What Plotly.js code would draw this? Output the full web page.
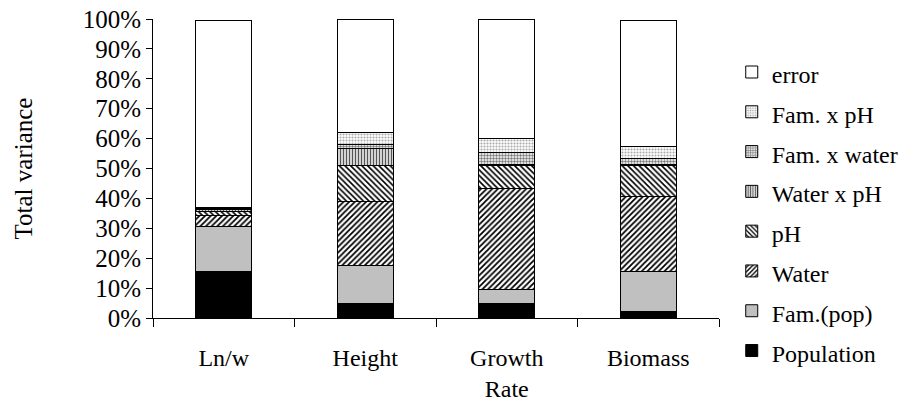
<!DOCTYPE html>
<html>
<head>
<meta charset="utf-8">
<script src="https://cdn.plot.ly/plotly-3.0.1.min.js"></script>
<style>
html,body{margin:0;padding:0;background:#fff;}
#chart{width:909px;height:409px;}
</style>
</head>
<body>
<div id="chart"></div>
<script>
var categories = ["Ln/w", "Height", "Growth<br>Rate", "Biomass"];
var population = [15.7, 4.9, 4.7, 2.3];
var famPop     = [14.8, 12.6, 4.9, 13.2];
var water      = [3.8, 21.6, 33.8, 25.2];
var pH         = [1.3, 12.0, 7.7, 10.2];
var waterXpH   = [0.6, 5.6, 0.2, 0.3];
var famXwater  = [0.4, 1.3, 3.9, 2.2];
var famXpH     = [0.5, 4.0, 4.8, 4.1];
var errorVar   = [62.3, 38.0, 40.0, 41.9];

var line = {color: "#000", width: 1};
function tr(name, y, color, pattern) {
  var m = {color: color, line: line};
  if (pattern) m.pattern = pattern;
  return {type: "bar", name: '<span style="font-size:24px">' + name + '</span>', x: categories, y: y, marker: m};
}
var data = [
  tr("Population", population, "#000000"),
  tr("Fam.(pop)", famPop, "#c0c0c0"),
  tr("Water", water, "#ffffff", {shape: "/", fgcolor: "#000", bgcolor: "#fff", size: 4, solidity: 0.45}),
  tr("pH", pH, "#ffffff", {shape: "\\", fgcolor: "#000", bgcolor: "#fff", size: 4, solidity: 0.4}),
  tr("Water x pH", waterXpH, "#ffffff", {shape: "|", fgcolor: "#555", bgcolor: "#e0e0e0", size: 3, solidity: 0.4}),
  tr("Fam. x water", famXwater, "#ffffff", {shape: ".", fgcolor: "#777", bgcolor: "#fff", size: 3, solidity: 0.5}),
  tr("Fam. x pH", famXpH, "#ffffff", {shape: ".", fgcolor: "#aaa", bgcolor: "#fff", size: 3, solidity: 0.4}),
  tr("error", errorVar, "#ffffff")
];

var FAM = '"Times New Roman", "Liberation Serif", serif';
function f(s) { return {family: FAM, size: s, color: "#000"}; }
var layout = {
  width: 909, height: 409,
  margin: {l: 153, r: 190, t: 19, b: 91, autoexpand: false},
  paper_bgcolor: "#fff", plot_bgcolor: "#fff",
  barmode: "stack", bargap: 0.604,
  font: f(24),
  showlegend: true,
  legend: {xref: "container", x: 0.805, xanchor: "left", y: 0.906, yanchor: "top", traceorder: "reversed", maxheight: 360,
           font: f(28.3), bgcolor: "rgba(0,0,0,0)"},
  xaxis: {showline: true, linecolor: "#000", linewidth: 1, ticks: "outside", tickson: "boundaries",
          ticklen: 8, tickcolor: "#000", showgrid: false, ticklabelstandoff: 18, tickfont: f(24)},
  yaxis: {range: [0, 100], dtick: 10, ticksuffix: "%", showline: true, linecolor: "#000", linewidth: 1,
          ticks: "outside", ticklen: 6, tickcolor: "#000", showgrid: false, zeroline: false,
          tickfont: f(25), title: {text: "Total variance", font: f(25), standoff: 42}}
};
Plotly.newPlot("chart", data, layout, {staticPlot: true});
</script>
</body>
</html>
